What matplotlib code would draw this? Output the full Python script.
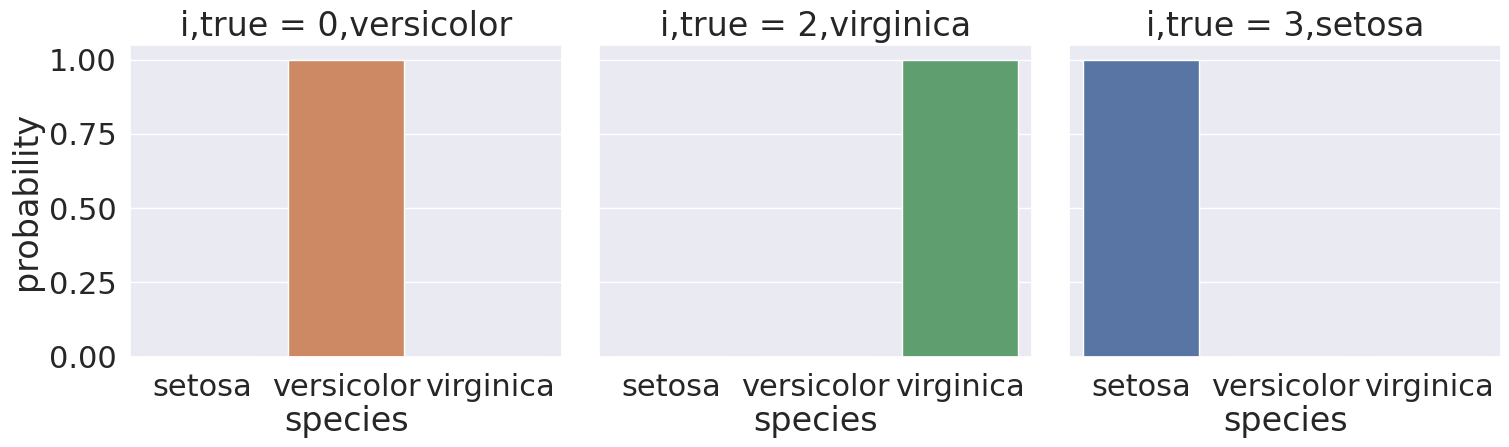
import matplotlib
matplotlib.use("Agg")
import matplotlib.pyplot as plt
import seaborn as sns

species = ["setosa", "versicolor", "virginica"]
panel_titles = ["i,true = 0,versicolor", "i,true = 2,virginica", "i,true = 3,setosa"]
probs = [
    [0.0, 1.0, 0.0],
    [0.0, 0.0, 1.0],
    [1.0, 0.0, 0.0],
]
bar_colors = ["#5975A4", "#CC8963", "#5F9E6E"]

sns.set_theme(style="darkgrid", font_scale=2)
plt.rcParams['font.family'] = ['DejaVu Sans']

fig, axes = plt.subplots(1, 3, figsize=(15.09, 4.47), dpi=100, sharey=True)
fig.subplots_adjust(left=0.086, right=0.995, top=0.9, bottom=0.202, wspace=0.085)

for ax, title, p in zip(axes, panel_titles, probs):
    ax.bar(range(len(species)), p, width=0.8, color=bar_colors, edgecolor="white", linewidth=1)
    ax.set_xticks(range(len(species)))
    ax.set_xticklabels(species)
    ax.set_xlim(-0.5, 2.5)
    ax.set_ylim(0, 1.05)
    ax.set_title(title)
    ax.set_xlabel("species", labelpad=2)
    ax.tick_params(axis="x", pad=6)
    ax.grid(False, axis="x")

axes[0].set_ylabel("probability")
axes[0].set_yticks([0, 0.25, 0.5, 0.75, 1.0])
axes[0].set_yticklabels(["0.00", "0.25", "0.50", "0.75", "1.00"])

fig.savefig("out.png", dpi=100)
